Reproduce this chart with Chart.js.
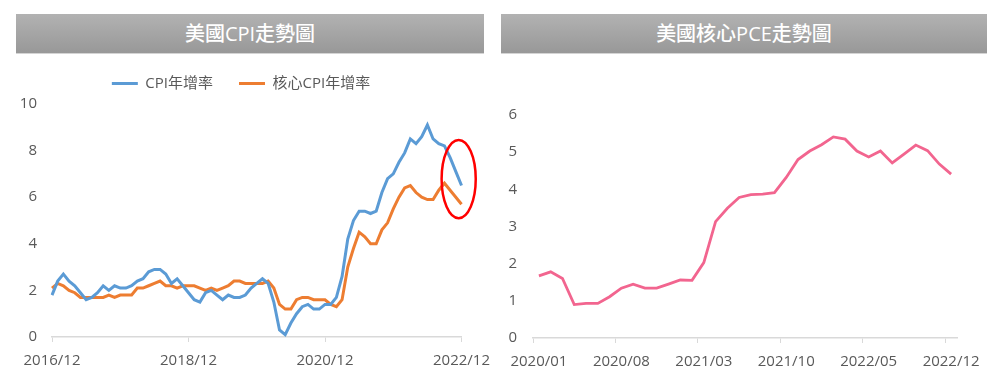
<!DOCTYPE html>
<html><head><meta charset="utf-8">
<script src="https://cdn.jsdelivr.net/npm/chart.js@4.4.0/dist/chart.umd.min.js"></script>
<style>
html,body{margin:0;padding:0;background:#fff;width:1000px;height:391px;overflow:hidden;}
.bar{position:absolute;top:14px;height:39px;background:linear-gradient(#b2b2b2,#989898);color:#fff;
 font-family:'Open Sans','Noto Sans CJK TC',sans-serif;font-size:20px;font-weight:500;line-height:39px;text-align:center;
 box-shadow:0 1px 0 #d4d4d4;}
.wrap{position:absolute;width:500px;}
</style></head><body>
<div class="bar" style="left:16px;width:468px">美國CPI走勢圖</div>
<div class="bar" style="left:501px;width:486px">美國核心PCE走勢圖</div>
<div class="wrap" style="left:0;top:50px;height:341px"><canvas id="c1"></canvas></div>
<div class="wrap" style="left:500px;top:60px;height:331px"><canvas id="c2"></canvas></div>
<script>
// ---------- data ----------
function monthLabels(y, m, n) {
  const out = [];
  for (let i = 0; i < n; i++) {
    out.push(y + '/' + String(m).padStart(2, '0'));
    m++; if (m > 12) { m = 1; y++; }
  }
  return out;
}
const cpiLabels = monthLabels(2016, 12, 73);
const cpiTickLabels = ['2016/12', '2018/12', '2020/12', '2022/12'];
const cpiYTicks = [0, 2, 4, 6, 8, 10];
const cpiYoY = [1.8,2.4,2.7,2.4,2.2,1.9,1.6,1.7,1.9,2.2,2.0,2.2,2.1,
  2.1,2.2,2.4,2.5,2.8,2.9,2.9,2.7,2.3,2.5,2.2,1.9,
  1.6,1.5,1.9,2.0,1.8,1.6,1.8,1.7,1.7,1.8,2.1,2.3,
  2.5,2.3,1.5,0.3,0.1,0.6,1.0,1.3,1.4,1.2,1.2,1.4,
  1.4,1.7,2.6,4.2,5.0,5.4,5.4,5.3,5.4,6.2,6.8,7.0,
  7.5,7.9,8.5,8.3,8.6,9.1,8.5,8.3,8.2,7.7,7.1,6.5];
const coreCpiYoY = [2.1,2.3,2.2,2.0,1.9,1.7,1.7,1.7,1.7,1.7,1.8,1.7,1.8,
  1.8,1.8,2.1,2.1,2.2,2.3,2.4,2.2,2.2,2.1,2.2,2.2,
  2.2,2.1,2.0,2.1,2.0,2.1,2.2,2.4,2.4,2.3,2.3,2.3,
  2.3,2.4,2.1,1.4,1.2,1.2,1.6,1.7,1.7,1.6,1.6,1.6,
  1.4,1.3,1.6,3.0,3.8,4.5,4.3,4.0,4.0,4.6,4.9,5.5,
  6.0,6.4,6.5,6.2,6.0,5.9,5.9,6.3,6.6,6.3,6.0,5.7];
const seriesNames = ['CPI年增率', '核心CPI年增率'];

const pceLabels = monthLabels(2020, 1, 36);
const pceTickLabels = ['2020/01', '2020/08', '2021/03', '2021/10', '2022/05', '2022/12'];
const pceYTicks = [0, 1, 2, 3, 4, 5, 6];
const corePce = [1.67,1.78,1.60,0.90,0.93,0.93,1.11,1.34,1.45,1.34,1.34,1.45,
  1.56,1.55,2.03,3.13,3.49,3.78,3.86,3.87,3.91,4.32,4.80,5.03,
  5.20,5.41,5.35,5.03,4.87,5.03,4.71,4.95,5.19,5.04,4.68,4.41];

// highlight ellipse (in data units: category index / value)
const highlight = { x: 71.5, y: 6.78, rx: 3, ry: 1.68 };

// ---------- styles ----------
const FONT = "'Open Sans','Noto Sans CJK TC',sans-serif";
const TXT = '#595959';
const AXIS = '#d9d9d9';

const ellipsePlugin = {
  id: 'ellipse',
  afterDraw(chart) {
    const xs = chart.scales.x, ys = chart.scales.y, ctx = chart.ctx;
    const cx = xs.getPixelForValue(highlight.x);
    const cy = ys.getPixelForValue(highlight.y);
    const rx = Math.abs(xs.getPixelForValue(highlight.x + highlight.rx) - cx);
    const ry = Math.abs(ys.getPixelForValue(highlight.y - highlight.ry) - cy);
    ctx.save();
    ctx.beginPath();
    ctx.ellipse(cx, cy, rx, ry, 0, 0, Math.PI * 2);
    ctx.strokeStyle = '#ff0000';
    ctx.lineWidth = 2.5;
    ctx.stroke();
    ctx.restore();
  }
};
const legendHeightPlugin = {
  id: 'legendHeight',
  beforeLayout(chart, args, opts) {
    const lg = chart.legend;
    if (lg && !lg._fixedH) {
      const f = lg.fit;
      lg.fit = function () { f.call(this); this.height = opts.height; };
      lg._fixedH = true;
    }
  }
};

function xAxis(labels, tickList, offset, height) {
  return {
    type: 'category',
    offset: offset,
    grid: {
      display: true, drawOnChartArea: false, drawTicks: true, tickLength: 5, offset: offset,
      color: c => (c.index < labels.length && tickList.includes(labels[c.index])) ? AXIS : 'rgba(0,0,0,0)',
      lineWidth: 1
    },
    border: { display: true, color: AXIS, width: 1.5 },
    ticks: {
      autoSkip: false, maxRotation: 0, minRotation: 0, padding: 10,
      color: TXT, font: { family: FONT, size: 15 },
      callback: function (v, i) { const l = labels[i]; return tickList.includes(l) ? l : ''; }
    },
    afterFit: s => { s.height = height; }
  };
}
function yAxis(ticksList, width, pad) {
  return {
    min: ticksList[0], max: ticksList[ticksList.length - 1],
    grid: { display: false, drawTicks: false },
    border: { display: false },
    afterBuildTicks: s => { s.ticks = ticksList.map(v => ({ value: v })); },
    ticks: { padding: pad, color: TXT, font: { family: FONT, size: 15 } },
    afterFit: s => { s.width = width; }
  };
}

new Chart(document.getElementById('c1'), {
  type: 'line',
  data: {
    labels: cpiLabels,
    datasets: [
      { label: seriesNames[0], data: cpiYoY, borderColor: '#5b9bd5', backgroundColor: '#5b9bd5',
        borderWidth: 3, pointRadius: 0, tension: 0 },
      { label: seriesNames[1], data: coreCpiYoY, borderColor: '#ed7d31', backgroundColor: '#ed7d31',
        borderWidth: 3, pointRadius: 0, tension: 0 }
    ]
  },
  options: {
    responsive: true, maintainAspectRatio: false, animation: false,
    layout: { padding: { left: 20, right: 38, top: 0, bottom: 0 } },
    scales: { x: xAxis(cpiLabels, cpiTickLabels, false, 54), y: yAxis(cpiYTicks, 32, 15) },
    plugins: {
      legendHeight: { height: 54 },
      tooltip: { enabled: false },
      legend: {
        display: true, position: 'top',
        labels: {
          boxWidth: 26, boxHeight: 3, padding: 26, color: TXT, font: { family: FONT, size: 15 },
          generateLabels: ch => ch.data.datasets.map((d, i) => ({
            text: d.label, fillStyle: d.borderColor, strokeStyle: d.borderColor, lineWidth: 0,
            hidden: false, datasetIndex: i, fontColor: TXT }))
        }
      }
    }
  },
  plugins: [ellipsePlugin, legendHeightPlugin]
});

new Chart(document.getElementById('c2'), {
  type: 'line',
  data: {
    labels: pceLabels,
    datasets: [
      { label: '核心PCE', data: corePce, borderColor: '#f2658f', backgroundColor: '#f2658f',
        borderWidth: 2.8, pointRadius: 0, tension: 0 }
    ]
  },
  options: {
    responsive: true, maintainAspectRatio: false, animation: false,
    layout: { padding: { left: 4, right: 43, top: 55, bottom: 0 } },
    scales: { x: xAxis(pceLabels, pceTickLabels, true, 53), y: yAxis(pceYTicks, 28, 16) },
    plugins: { legend: { display: false }, tooltip: { enabled: false } }
  }
});
</script>
</body></html>
